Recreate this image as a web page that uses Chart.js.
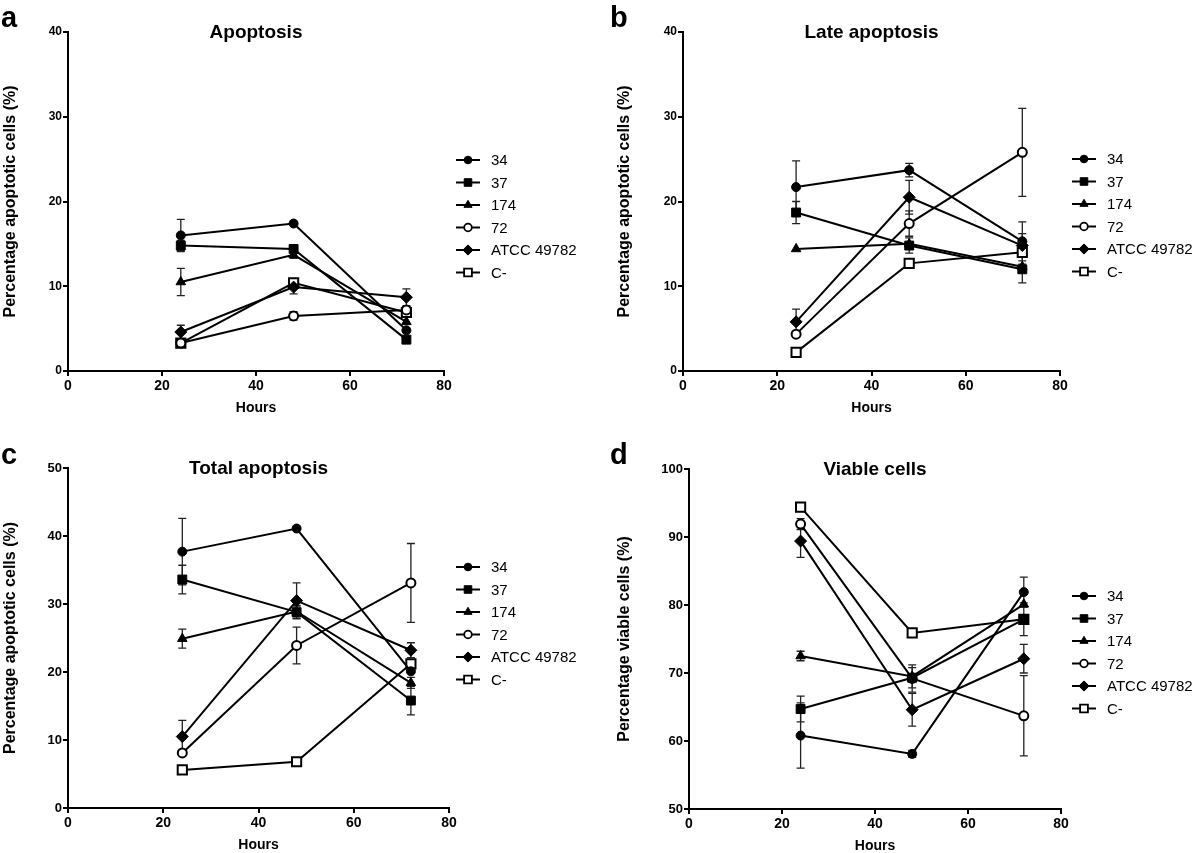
<!DOCTYPE html>
<html>
<head>
<meta charset="utf-8">
<script src="https://cdn.jsdelivr.net/npm/chart.js@4"></script>
<style>
  body { margin: 0; background: #fff; }
  .wrap { position: relative; width: 1200px; height: 853px; overflow: hidden; }
  canvas { position: absolute; }
</style>
</head>
<body>
<div class="wrap">
  <canvas id="panelA" width="600" height="420" style="left:0;top:0"></canvas>
  <canvas id="panelB" width="600" height="420" style="left:600px;top:0"></canvas>
  <canvas id="panelC" width="600" height="433" style="left:0;top:420px"></canvas>
  <canvas id="panelD" width="600" height="433" style="left:600px;top:420px"></canvas>
</div>
<script>
const hours = [24, 48, 72];
const strains = ['34', '37', '174', '72', 'ATCC 49782', 'C-'];

// a - Apoptosis (mean, error) per strain, at 24/48/72 h
const apoptosisMean = [
  [16.0, 17.4, 4.8],
  [14.8, 14.4, 3.7],
  [10.5, 13.7, 5.8],
  [3.3, 6.5, 7.2],
  [4.6, 9.9, 8.7],
  [3.3, 10.4, 6.9],
];
const apoptosisErr = [
  [1.9, 0, 0],
  [0.6, 0.4, 0.3],
  [1.6, 0.4, 0],
  [0.3, 0.5, 0.3],
  [0.8, 0.8, 1.0],
  [0.3, 0.4, 0.4],
];

// b - Late apoptosis
const lateMean = [
  [21.7, 23.7, 15.3],
  [18.7, 14.8, 12.0],
  [14.4, 15.0, 12.3],
  [4.35, 17.4, 25.8],
  [5.8, 20.5, 14.8],
  [2.2, 12.7, 14.0],
];
const lateErr = [
  [3.1, 0.8, 2.3],
  [1.3, 0.9, 1.6],
  [0, 0, 0.3],
  [0, 1.5, 5.2],
  [1.5, 2.0, 1.4],
  [0, 0, 0.6],
];

// c - Total apoptosis
const totalMean = [
  [37.7, 41.1, 20.1],
  [33.6, 28.8, 15.8],
  [24.9, 28.9, 18.4],
  [8.1, 23.9, 33.1],
  [10.5, 30.5, 23.2],
  [5.6, 6.8, 21.2],
];
const totalErr = [
  [4.9, 0, 0],
  [2.1, 1.0, 2.1],
  [1.4, 0.8, 0.8],
  [0, 2.7, 5.8],
  [2.4, 2.6, 1.1],
  [0, 0, 0],
];

// d - Viable cells
const viableMean = [
  [60.8, 58.1, 81.9],
  [64.7, 69.3, 77.9],
  [72.5, 69.5, 80.1],
  [91.9, 69.2, 63.7],
  [89.4, 64.6, 72.1],
  [94.4, 75.9, 77.9],
];
const viableErr = [
  [4.8, 0.5, 2.2],
  [1.9, 1.5, 2.4],
  [0.7, 0, 0],
  [0.8, 2.0, 5.9],
  [2.4, 2.4, 2.1],
  [0, 0, 0],
];

const FONT = '"Liberation Sans", Arial, Helvetica, sans-serif';

// marker look for each strain
const markers = [
  { pointStyle: 'circle', radius: 4.5, fill: '#000' },
  { pointStyle: 'rect', radius: 6.3, fill: '#000' },
  { pointStyle: 'triangle', radius: 5.5, fill: '#000' },
  { pointStyle: 'circle', radius: 4.5, fill: '#fff' },
  { pointStyle: 'rectRot', radius: 6, fill: '#000' },
  { pointStyle: 'rect', radius: 6.5, fill: '#fff' },
];

// error bars behind the lines
const errorBars = {
  id: 'errorBars',
  beforeDatasetsDraw(chart) {
    const ctx = chart.ctx;
    const xs = chart.scales.x, ys = chart.scales.y;
    ctx.save();
    ctx.strokeStyle = '#222';
    ctx.lineWidth = 1.3;
    chart.data.datasets.forEach(ds => {
      ds.data.forEach((pt, j) => {
        const e = ds.errors[j];
        if (!e) return;
        const x = xs.getPixelForValue(pt.x);
        const y1 = ys.getPixelForValue(pt.y + e);
        const y2 = ys.getPixelForValue(pt.y - e);
        ctx.beginPath();
        ctx.moveTo(x, y1); ctx.lineTo(x, y2);
        ctx.moveTo(x - 4, y1); ctx.lineTo(x + 4, y1);
        ctx.moveTo(x - 4, y2); ctx.lineTo(x + 4, y2);
        ctx.stroke();
      });
    });
    ctx.restore();
  }
};

// titles, panel letter, axis titles and legend
const deco = {
  id: 'deco',
  afterDraw(chart, args, o) {
    const ctx = chart.ctx;
    const a = chart.chartArea;
    const cx = (a.left + a.right) / 2;
    ctx.save();
    ctx.fillStyle = '#000';

    ctx.font = 'bold 29px ' + FONT;
    ctx.textAlign = 'left';
    ctx.textBaseline = 'alphabetic';
    ctx.fillText(o.letter, o.letterX, o.letterY);

    ctx.font = 'bold 19px ' + FONT;
    ctx.textAlign = 'center';
    ctx.textBaseline = 'middle';
    ctx.fillText(o.title, cx, a.top + 1);

    ctx.font = 'bold 14px ' + FONT;
    ctx.fillText('Hours', cx, a.bottom + 37);

    ctx.save();
    ctx.translate(o.yTitleX, (a.top + a.bottom) / 2);
    ctx.rotate(-Math.PI / 2);
    ctx.font = 'bold 16px ' + FONT;
    ctx.fillText(o.yTitle, 0, 0);
    ctx.restore();

    // legend
    chart.data.datasets.forEach((ds, i) => {
      const y = o.legendTop + i * 22.5;
      const m = markers[i];
      ctx.strokeStyle = '#000';
      ctx.lineWidth = 2;
      ctx.beginPath();
      ctx.moveTo(o.legendX - 12, y);
      ctx.lineTo(o.legendX + 12, y);
      ctx.stroke();
      ctx.fillStyle = m.fill;
      ctx.lineWidth = m.fill === '#fff' ? 1.8 : 1;
      Chart.helpers.drawPoint(ctx, { pointStyle: m.pointStyle, radius: m.radius * 0.85, rotation: 0, borderWidth: ctx.lineWidth }, o.legendX, y);
      ctx.fillStyle = '#000';
      ctx.font = '15px ' + FONT;
      ctx.textAlign = 'left';
      ctx.textBaseline = 'middle';
      ctx.fillText(ds.label, o.legendX + 23, y + 1);
    });
    ctx.restore();
  }
};

function makePanel(id, p) {
  const canvas = document.getElementById(id);
  const W = canvas.width, H = canvas.height;
  const tickFont = { family: FONT, size: 14, weight: 'bold' };
  return new Chart(canvas, {
    type: 'line',
    data: {
      datasets: strains.map((name, i) => ({
        label: name,
        data: hours.map((h, j) => ({ x: h, y: p.mean[i][j] })),
        errors: p.err[i],
        borderColor: '#000',
        borderWidth: 2,
        pointStyle: markers[i].pointStyle,
        pointRadius: markers[i].radius,
        pointBackgroundColor: markers[i].fill,
        pointBorderColor: '#000',
        pointBorderWidth: markers[i].fill === '#fff' ? 2 : 1,
        tension: 0,
      })),
    },
    options: {
      responsive: false,
      animation: false,
      events: [],
      layout: { padding: { left: 0, top: p.area.t, right: W - p.area.r, bottom: 0 } },
      plugins: {
        legend: { display: false },
        tooltip: { enabled: false },
        deco: p.deco,
      },
      scales: {
        x: {
          type: 'linear', min: 0, max: 80,
          ticks: { stepSize: 20, color: '#000', font: tickFont, padding: 2, maxRotation: 0 },
          grid: { drawOnChartArea: false, color: '#000', lineWidth: 2, tickLength: 5 },
          border: { color: '#000', width: 2 },
          afterFit: s => { s.height = H - p.area.b; },
        },
        y: {
          min: p.yMin, max: p.yMax,
          ticks: { stepSize: 10, color: '#000', font: { family: FONT, size: p.yTickSize, weight: 'bold' }, padding: 1 },
          grid: { drawOnChartArea: false, color: '#000', lineWidth: 2, tickLength: 5 },
          border: { color: '#000', width: 2 },
          afterFit: s => { s.width = p.area.l; },
        },
      },
    },
    plugins: [errorBars, deco],
  });
}

makePanel('panelA', {
  mean: apoptosisMean, err: apoptosisErr, yMin: 0, yMax: 40, yTickSize: 12,
  area: { l: 68, r: 444, t: 32, b: 371 },
  deco: { letter: 'a', letterX: 1, letterY: 27, title: 'Apoptosis', yTitle: 'Percentage apoptotic cells (%)', yTitleX: 11, legendX: 468, legendTop: 160 },
});
makePanel('panelB', {
  mean: lateMean, err: lateErr, yMin: 0, yMax: 40, yTickSize: 12,
  area: { l: 83, r: 460, t: 32, b: 371 },
  deco: { letter: 'b', letterX: 10, letterY: 27, title: 'Late apoptosis', yTitle: 'Percentage apoptotic cells (%)', yTitleX: 25, legendX: 484, legendTop: 159 },
});
makePanel('panelC', {
  mean: totalMean, err: totalErr, yMin: 0, yMax: 50, yTickSize: 13,
  area: { l: 68, r: 449, t: 48, b: 388 },
  deco: { letter: 'c', letterX: 1, letterY: 44, title: 'Total apoptosis', yTitle: 'Percentage apoptotic cells (%)', yTitleX: 11, legendX: 468, legendTop: 147 },
});
makePanel('panelD', {
  mean: viableMean, err: viableErr, yMin: 50, yMax: 100, yTickSize: 13,
  area: { l: 89, r: 461, t: 49, b: 389 },
  deco: { letter: 'd', letterX: 10, letterY: 44, title: 'Viable cells', yTitle: 'Percentage viable cells (%)', yTitleX: 25, legendX: 484, legendTop: 176 },
});
</script>
</body>
</html>
